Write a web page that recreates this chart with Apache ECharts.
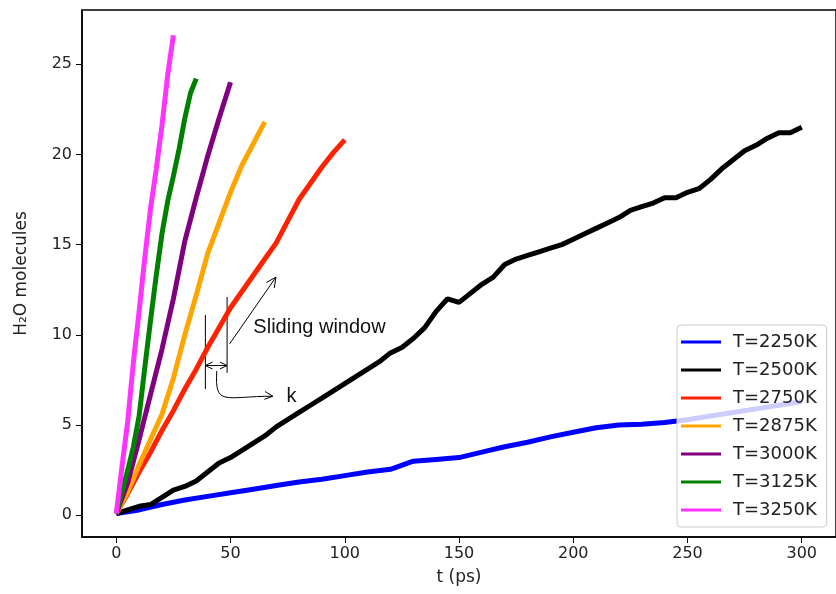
<!DOCTYPE html>
<html>
<head>
<meta charset="utf-8">
<script src="https://cdn.jsdelivr.net/npm/echarts@6/dist/echarts.min.js"></script>
<style>
  html, body { margin: 0; padding: 0; background: #fff; }
  #chart { width: 836px; height: 594px; }
</style>
</head>
<body>
<div id="chart"></div>
<script>
// temperatures (legend names) and colours
const names = ['T=2250K', 'T=2500K', 'T=2750K', 'T=2875K', 'T=3000K', 'T=3125K', 'T=3250K']
const colors = ['#0000ff', '#000000', '#ff2200', '#ffa500', '#800080', '#008000', '#ff33ff']

// values, t (ps) -> H2O molecules
const t2250 = [0, 10, 20, 30, 40, 50, 60, 70, 80, 90, 100, 110, 120, 130, 140, 150, 160, 170, 180, 190, 200, 210, 220, 230, 240, 250, 260, 270, 280, 290, 300]
const v2250 = [0.1, 0.3, 0.6, 0.85, 1.05, 1.25, 1.45, 1.65, 1.85, 2.0, 2.2, 2.4, 2.55, 3.0, 3.1, 3.2, 3.5, 3.8, 4.05, 4.35, 4.6, 4.85, 5.0, 5.05, 5.15, 5.3, 5.5, 5.7, 5.9, 6.1, 6.3]

const t2500 = [0, 5, 10, 15, 20, 25, 30, 35, 40, 45, 50, 55, 60, 65, 70, 75, 80, 85, 90, 95, 100, 105, 110, 115, 120, 125, 130, 135, 140, 145, 150, 155, 160, 165, 170, 175, 180, 185, 190, 195, 200, 205, 210, 215, 220, 225, 230, 235, 240, 245, 250, 255, 260, 265, 270, 275, 280, 285, 290, 295, 300]
const v2500 = [0.1, 0.3, 0.5, 0.6, 1.0, 1.4, 1.6, 1.9, 2.4, 2.9, 3.2, 3.6, 4.0, 4.4, 4.9, 5.3, 5.7, 6.1, 6.5, 6.9, 7.3, 7.7, 8.1, 8.5, 9.0, 9.3, 9.8, 10.4, 11.3, 12.0, 11.8, 12.3, 12.8, 13.2, 13.9, 14.2, 14.4, 14.6, 14.8, 15.0, 15.3, 15.6, 15.9, 16.2, 16.5, 16.9, 17.1, 17.3, 17.6, 17.6, 17.9, 18.1, 18.6, 19.2, 19.7, 20.2, 20.5, 20.9, 21.2, 21.2, 21.5]

const t2750 = [0, 5, 10, 15, 20, 25, 30, 35, 40, 45, 50, 55, 60, 65, 70, 75, 80, 85, 90, 95, 100]
const v2750 = [0.1, 1.2, 2.4, 3.5, 4.7, 5.8, 7.0, 8.1, 9.3, 10.4, 11.5, 12.4, 13.3, 14.2, 15.1, 16.3, 17.5, 18.4, 19.3, 20.1, 20.8]

const t2875 = [0, 5, 10, 15, 20, 25, 30, 35, 40, 45, 50, 55, 60, 65]
const v2875 = [0.1, 1.3, 2.8, 4.2, 5.6, 7.6, 10.0, 12.2, 14.5, 16.2, 17.9, 19.4, 20.6, 21.8]

const t3000 = [0, 5, 10, 15, 20, 25, 30, 35, 40, 45, 50]
const v3000 = [0.1, 1.8, 4.2, 6.7, 9.2, 12.0, 15.2, 17.6, 19.9, 22.0, 24.0]

const t3125 = [0, 2.5, 5, 7.5, 10, 12.5, 15, 17.5, 20, 22.5, 25, 27.5, 30, 32.5, 35]
const v3125 = [0.1, 1.3, 2.5, 3.8, 5.5, 8.2, 10.8, 13.3, 15.6, 17.4, 18.8, 20.3, 22.0, 23.4, 24.2]

const t3250 = [0, 2.5, 5, 7.5, 10, 12.5, 15, 17.5, 20, 22.5, 25]
const v3250 = [0.1, 2.7, 5.2, 8.5, 11.3, 14.3, 17.0, 19.2, 21.6, 24.4, 26.6]

const xTicks = [0, 50, 100, 150, 200, 250, 300]
const yTicks = [0, 5, 10, 15, 20, 25]

const allT = [t2250, t2500, t2750, t2875, t3000, t3125, t3250]
const allV = [v2250, v2500, v2750, v2875, v3000, v3125, v3250]

const chart = echarts.init(document.getElementById('chart'), null, { renderer: 'canvas' })

const axisFont = { fontFamily: 'DejaVu Sans', fontSize: 16, color: '#222' }

chart.setOption({
  animation: false,
  grid: {
    left: 82, top: 10, right: -7, bottom: 57,
    show: true, borderColor: '#000', borderWidth: 1.5, backgroundColor: 'transparent'
  },
  legend: {
    orient: 'vertical',
    left: 677, top: 325,
    data: names,
    icon: 'rect',
    itemWidth: 40, itemHeight: 3,
    itemGap: 10,
    padding: [8, 10, 8, 4],
    backgroundColor: 'rgba(255,255,255,0.8)',
    borderColor: '#ccc', borderWidth: 1, borderRadius: 4,
    textStyle: { fontFamily: 'DejaVu Sans', fontSize: 18, lineHeight: 18, color: '#222', padding: [0, 0, 0, 7] }
  },
  xAxis: {
    type: 'value', min: -15, max: 315,
    name: 't (ps)', nameLocation: 'middle', nameGap: 32,
    nameTextStyle: { fontFamily: 'DejaVu Sans', fontSize: 17, color: '#222' },
    axisLine: { onZero: false, lineStyle: { color: '#000', width: 1.5 } },
    axisTick: { show: true, length: 6, lineStyle: { color: '#000' }, customValues: xTicks },
    axisLabel: { ...axisFont, margin: 9, customValues: xTicks },
    splitLine: { show: false }
  },
  yAxis: {
    type: 'value', min: -1.2, max: 28,
    name: 'H\u2082O molecules', nameLocation: 'middle', nameGap: 52,
    nameTextStyle: { fontFamily: 'DejaVu Sans', fontSize: 17, color: '#222' },
    axisLine: { show: true, onZero: false, lineStyle: { color: '#000', width: 1.5 } },
    axisTick: { show: true, length: 6, lineStyle: { color: '#000' }, customValues: yTicks },
    axisLabel: { ...axisFont, margin: 10, customValues: yTicks },
    splitLine: { show: false }
  },
  series: names.map((name, i) => ({
    name,
    type: 'line',
    showSymbol: false,
    color: colors[i],
    lineStyle: { width: 5, color: colors[i] },
    data: allT[i].map((t, j) => [t, allV[i][j]])
  }))
})

// sliding window annotation, given in data units (t, molecules)
const p = (t, v) => chart.convertToPixel({ gridIndex: 0 }, [t, v])
const line = (a, b) => ({ type: 'line', shape: { x1: a[0], y1: a[1], x2: b[0], y2: b[1] }, style: { stroke: '#000', lineWidth: 1 } })
const head = (tip, from, size) => {
  const dx = tip[0] - from[0], dy = tip[1] - from[1]
  const len = Math.hypot(dx, dy), ux = dx / len, uy = dy / len
  const a = 0.45
  const l = [tip[0] - size * (ux * Math.cos(a) - uy * Math.sin(a)), tip[1] - size * (uy * Math.cos(a) + ux * Math.sin(a))]
  const r = [tip[0] - size * (ux * Math.cos(a) + uy * Math.sin(a)), tip[1] - size * (uy * Math.cos(a) - ux * Math.sin(a))]
  return { type: 'polyline', shape: { points: [l, tip, r] }, style: { stroke: '#000', lineWidth: 1, fill: null } }
}

const w1a = p(39, 11.1), w1b = p(39, 7.0)
const w2a = p(48.5, 12.1), w2b = p(48.5, 7.9)
const hA = p(39, 8.3), hB = p(48.5, 8.3)
const dA = p(49.6, 9.5), dB = p(69.9, 13.2)
const cA = p(44, 8.0), cC = p(43, 6.0), cB = p(68.5, 6.6)

chart.setOption({
  graphic: [
    line(w1a, w1b),
    line(w2a, w2b),
    line(hA, hB), head(hA, hB, 8), head(hB, hA, 8),
    line(dA, dB), head(dB, dA, 11),
    { type: 'bezierCurve', shape: { x1: cA[0], y1: cA[1], cpx1: cC[0], cpy1: cC[1], cpx2: cC[0] + 10, cpy2: cB[1], x2: cB[0], y2: cB[1] },
      style: { stroke: '#000', lineWidth: 1, fill: null } },
    head(cB, [cB[0] - 10, cB[1] - 1], 9),
    { type: 'text', x: p(60, 10.4)[0], y: p(60, 10.4)[1],
      style: { text: 'Sliding window', font: '20px "Liberation Sans"', fill: '#111', verticalAlign: 'middle' } },
    { type: 'text', x: p(74.5, 6.6)[0], y: p(74.5, 6.6)[1],
      style: { text: 'k', font: '20px "Liberation Sans"', fill: '#111', verticalAlign: 'middle' } }
  ]
})
</script>
</body>
</html>
